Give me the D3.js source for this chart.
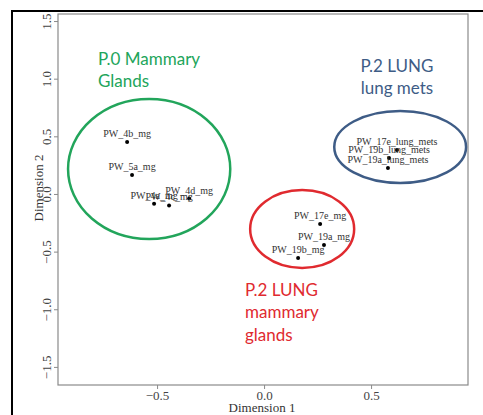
<!DOCTYPE html>
<html><head><meta charset="utf-8">
<script src="https://cdn.jsdelivr.net/npm/d3@7"></script>
<style>body{margin:0;background:#fff}svg{display:block}</style>
</head><body>
<script>
// ---- data ----
const sampleNames = ["PW_4b_mg","PW_5a_mg","PW_4a_mg","PW_4c_mg","PW_4d_mg",
  "PW_17e_mg","PW_19a_mg","PW_19b_mg",
  "PW_17e_lung_mets","PW_19b_lung_mets","PW_19a_lung_mets"];
const dim1 = [-0.640,-0.617,-0.514,-0.444,-0.350, 0.262,0.280,0.159, 0.621,0.584,0.579];
const dim2 = [ 0.450, 0.165,-0.085,-0.100,-0.040,-0.260,-0.442,-0.555, 0.382,0.312,0.225];
const xTicks = [-0.5, 0.0, 0.5];
const yTicks = [-1.5,-1.0,-0.5,0.0,0.5,1.0,1.5];
const groupNames = ["P.0 Mammary Glands","P.2 LUNG mammary glands","P.2 LUNG lung mets"];
const groupLines = [["P.0 Mammary","Glands"],["P.2 LUNG","mammary","glands"],["P.2 LUNG","lung mets"]];
const groupCx = [-0.537, 0.178, 0.636];
const groupCy = [ 0.217,-0.304, 0.408];
const groupRx = [ 0.379, 0.243, 0.308];
const groupRy = [ 0.607, 0.338, 0.312];
// label anchor (data coords)
const labelX = [-0.776,-0.089, 0.621];
const labelY = [ 1.119,-0.885, 1.058];

// ---- layout ----
const W=483,H=415;
const colors=["#22a55b","#e02a2f","#3e5c86"];
const anchors=["start","start","middle"];
const svg=d3.select("body").append("svg").attr("width",W).attr("height",H);
const x=d3.scaleLinear().domain([-0.963,0.953]).range([58,468]);
const y=d3.scaleLinear().domain([-1.657,1.561]).range([385,14]);

// outer frame
svg.append("line").attr("x1",12).attr("x2",483).attr("y1",11).attr("y2",11).attr("stroke","#000").attr("stroke-width",2);
svg.append("line").attr("x1",12).attr("x2",12).attr("y1",10).attr("y2",415).attr("stroke","#000").attr("stroke-width",2);

// plot box
svg.append("rect").attr("x",58).attr("y",14).attr("width",410).attr("height",371)
  .attr("fill","none").attr("stroke","#8a8a8a").attr("stroke-width",1.2);

// axes
const xa=svg.append("g").attr("transform","translate(0,385)")
  .call(d3.axisBottom(x).tickValues(xTicks).tickFormat(d3.format(".1f")).tickSize(4).tickSizeOuter(0));
const ya=svg.append("g").attr("transform","translate(58,0)")
  .call(d3.axisLeft(y).tickValues(yTicks).tickFormat(d3.format(".1f")).tickSize(4).tickSizeOuter(0));
[xa,ya].forEach(g=>{
  g.select(".domain").remove();
  g.selectAll(".tick line").attr("stroke","#8a8a8a");
  g.selectAll(".tick text").attr("font-family","'Liberation Serif','Times New Roman',serif")
    .attr("font-size",13).attr("fill","#444");
});
xa.selectAll(".tick text").attr("dy",null).attr("y",15);
ya.selectAll(".tick text").attr("x",null).attr("dy",null)
  .attr("transform","translate(-7,0) rotate(-90)").attr("text-anchor","middle").attr("y",0);

svg.append("text").attr("x",262).attr("y",412).attr("text-anchor","middle")
  .attr("font-family","'Liberation Serif',serif").attr("font-size",13).attr("fill","#333").text("Dimension 1");
svg.append("text").attr("transform","translate(43,188) rotate(-90)").attr("text-anchor","middle")
  .attr("font-family","'Liberation Serif',serif").attr("font-size",13).attr("fill","#333").text("Dimension 2");

// group ellipses
svg.append("g").selectAll("ellipse").data(groupNames).join("ellipse")
  .attr("cx",(d,i)=>x(groupCx[i])).attr("cy",(d,i)=>y(groupCy[i]))
  .attr("rx",(d,i)=>x(groupCx[i]+groupRx[i])-x(groupCx[i]))
  .attr("ry",(d,i)=>y(groupCy[i])-y(groupCy[i]+groupRy[i]))
  .attr("fill","none").attr("stroke",(d,i)=>colors[i]).attr("stroke-width",2.5);

// group labels
groupNames.forEach((g,i)=>{
  const t=svg.append("text").attr("font-family","Lato,'Open Sans',sans-serif").attr("font-size",17)
    .attr("fill",colors[i]).attr("text-anchor",anchors[i]);
  groupLines[i].forEach((ln,j)=>{
    t.append("tspan").attr("x",x(labelX[i])).attr("y",y(labelY[i])+j*22.5).text(ln);
  });
});

// points
svg.append("g").selectAll("circle").data(sampleNames).join("circle")
  .attr("cx",(d,i)=>x(dim1[i])).attr("cy",(d,i)=>y(dim2[i])).attr("r",2).attr("fill","#000");
svg.append("g").selectAll("text").data(sampleNames).join("text")
  .attr("x",(d,i)=>x(dim1[i])).attr("y",(d,i)=>y(dim2[i])-5).attr("text-anchor","middle")
  .attr("font-family","'Liberation Serif',serif").attr("font-size",10).attr("fill","#333").text(d=>d);
</script>
</body></html>
